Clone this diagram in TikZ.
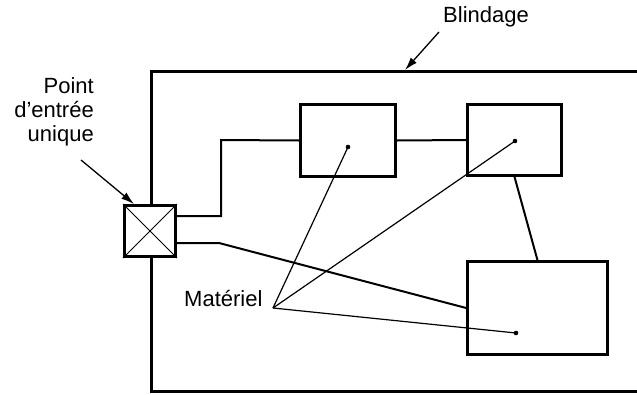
\documentclass[tikz,border=0pt]{standalone}
\usepackage{fontspec}
\setmainfont{Liberation Sans}
\usepackage{tikz}
\usetikzlibrary{calc}
\usetikzlibrary{arrows.meta}
\usetikzlibrary{positioning}
\tikzset{>=latex}
\newcommand{\lblfont}{\fontsize{22}{24}\selectfont}
\tikzstyle{unit} = [rectangle, draw, line width=2.6pt, inner sep=0]
\tikzstyle{wire} = [line width=2pt]
\tikzstyle{feeder} = [line width=1.2pt]
\tikzstyle{pointer} = [line width=1.3pt, -{Latex[length=13pt, width=8pt]}]
\tikzstyle{lbl} = [draw=none, inner sep=0, font=\lblfont]

\begin{document}
\begin{tikzpicture}[x=1pt, y=-1pt]
\useasboundingbox (0,0) rectangle (637,394);
\clip (0,0) rectangle (637,394);
% shield
\draw [line width=3pt] (660,71) -- (151,71) -- (151,391) -- (660,391);
% single entry point
\node [unit, line width=3pt, fill=white, minimum size=51pt] (entry) at (150,231) {};
\draw [line width=1pt] (entry.north west) -- (entry.south east);
\draw [line width=1pt] (entry.north east) -- (entry.south west);
% equipment
\node [unit, minimum width=95pt, minimum height=72pt] (eq1) at (348,140.5) {};
\node [unit, minimum width=94pt, minimum height=71pt] (eq2) at (514.5,140) {};
\node [unit, minimum width=140pt, minimum height=93pt] (eq3) at (537.5,308) {};
\coordinate (d1) at (348,147);
\coordinate (d2) at (515,141);
\coordinate (d3) at (516,333);
\coordinate (k1) at (221,140);
\coordinate (k2) at (219,243);
\draw [wire] ([yshift=15pt]entry.east) -| (k1) -- (eq1.west);
\draw [wire] (eq1.east) -- (eq2.west);
\draw [wire] (eq2.south) -- (eq3.north);
\draw [wire] ([yshift=-12pt]entry.east) -- (k2) -- (eq3.west);
% labels
\node [lbl, anchor=base west] (blind) at (443,22) {Blindage};
\node [lbl, align=right, anchor=north east] (pt) at (94,77) {Point\\d’entrée\\unique};
\node [lbl, anchor=base west] (mat) at (184,306) {Matériel};
\coordinate (hub) at (273,308);
\draw [feeder] (hub) -- (d1);
\draw [feeder] (hub) -- (d2);
\draw [feeder] (hub) -- (d3);
\foreach \d in {d1,d2,d3}
  \fill (\d) circle (2.3pt);
\coordinate (blindtail) at (439,32);
\coordinate (blindtip) at (405,70);
\coordinate (pttail) at (81,160);
\draw [pointer] (blindtail) -- (blindtip);
\draw [pointer] (pttail) -- ([xshift=11pt]entry.north west);
\end{tikzpicture}
\end{document}
